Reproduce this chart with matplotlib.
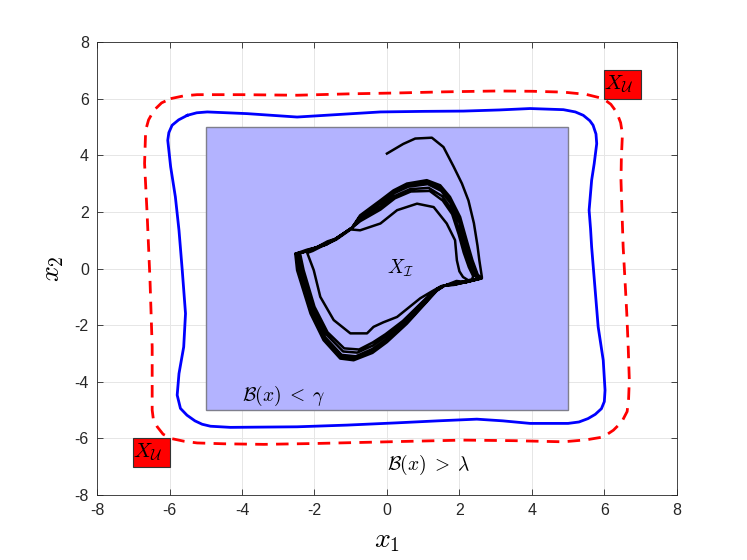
import numpy as np
import matplotlib.pyplot as plt
from matplotlib.patches import Rectangle

plt.rcParams['mathtext.fontset'] = 'cm'
plt.rcParams['font.family'] = ['Liberation Sans', 'DejaVu Sans']
plt.rcParams['axes.unicode_minus'] = False

# ---------------- data ----------------
init_box = [-5, 5, -5, 5]                       # x0, x1, y0, y1
unsafe_boxes = [[6, 7, 6, 7], [-7, -6, -7, -6]]

# level set B(x) = gamma (blue, solid)
inner_x = [-5.51, -5.25, -4.96, -3.86, -2.48, -1.20, -0.18, 1.00, 2.11, 3.10, 3.95, 4.87, 5.20,
           5.42, 5.60, 5.69, 5.77, 5.79, 5.72, 5.65, 5.58, 5.62, 5.65, 5.74, 5.83, 5.97, 6.02,
           6.00, 5.92, 5.75, 5.55, 5.30, 5.00, 3.95, 3.20, 2.48, 1.40, 0.28, -1.10, -2.48, -4.32,
           -4.87, -5.10, -5.30, -5.52, -5.70, -5.79, -5.74, -5.61, -5.56, -5.65, -5.74, -5.84,
           -5.97, -6.05, -6.02, -5.93, -5.75, -5.51]
inner_y = [5.41, 5.50, 5.53, 5.47, 5.35, 5.45, 5.53, 5.55, 5.56, 5.60, 5.65, 5.61, 5.53,
           5.41, 5.22, 5.06, 4.75, 4.41, 3.70, 3.12, 2.06, 1.40, 0.76, -0.65, -2.06, -3.24, -4.30,
           -4.70, -4.95, -5.15, -5.30, -5.42, -5.47, -5.47, -5.38, -5.32, -5.38, -5.45, -5.53, -5.59, -5.61,
           -5.57, -5.50, -5.38, -5.18, -4.94, -4.47, -3.71, -2.77, -1.59, -0.06, 1.35, 2.53,
           3.59, 4.53, 4.80, 5.06, 5.25, 5.41]

# level set B(x) = lambda (red, dashed)
outer_x = [-5.97, -5.60, -5.24, -4.00, -2.48, -1.00, 0.28, 1.60, 3.03, 4.00, 4.87, 5.50, 5.97,
           6.18, 6.34, 6.45, 6.50, 6.47, 6.46, 6.49, 6.52, 6.57, 6.62, 6.66, 6.69, 6.67, 6.63,
           6.48, 6.25, 5.97, 5.50, 4.87, 3.50, 2.11, 0.70, -0.64, -2.00, -3.40, -4.50, -5.24,
           -5.60, -5.97, -6.18, -6.34, -6.45, -6.48, -6.48, -6.48, -6.54, -6.62, -6.69, -6.66,
           -6.58, -6.43, -6.22, -5.97]
outer_y = [6.00, 6.10, 6.14, 6.14, 6.12, 6.17, 6.20, 6.24, 6.27, 6.26, 6.23, 6.15, 6.00,
           5.80, 5.52, 5.15, 4.75, 3.90, 3.12, 1.90, 0.76, -0.40, -1.59, -2.80, -3.94, -4.60, -5.05,
           -5.42, -5.71, -5.95, -6.05, -6.12, -6.08, -6.06, -6.10, -6.14, -6.18, -6.21, -6.19, -6.16,
           -6.10, -6.00, -5.85, -5.59, -5.30, -5.00, -4.65, -2.77, -0.41, 1.94, 3.71, 4.88,
           5.25, 5.59, 5.85, 6.00]

# sample trajectory: start segment, then orbits from outermost to innermost
traj_x = [0.00, 0.45, 0.78, 1.24, 1.56, 1.84, 2.07, 2.25, 2.40, 2.50, 2.55, 2.62,
          # orbit 1
          2.62, 2.20, 1.92, 1.60, 1.38, 1.19, 0.55, 0.00, -0.40, -0.92, -1.29, -1.75, -2.11, -2.48,
          -2.53, -2.20, -1.95, -1.68, -1.42, -0.96, -0.74, -0.18, 0.18, 0.55, 1.10, 1.47, 1.74,
          2.02, 2.20, 2.36, 2.50,
          # orbit 2
          2.60, 2.19, 1.88, 1.59, 1.40, 1.17, 0.53, -0.01, -0.40, -0.89, -1.27, -1.73, -2.09, -2.45,
          -2.51, -2.22, -1.94, -1.64, -1.42, -0.96, -0.74, -0.18, 0.19, 0.57, 1.11, 1.48, 1.75,
          2.01, 2.19, 2.34, 2.48,
          # orbit 3
          2.58, 2.17, 1.90, 1.59, 1.33, 1.15, 0.51, -0.02, -0.40, -0.86, -1.25, -1.71, -2.07, -2.41,
          -2.48, -2.18, -1.94, -1.70, -1.42, -0.97, -0.74, -0.18, 0.20, 0.59, 1.13, 1.50, 1.76,
          2.01, 2.17, 2.32, 2.46,
          # orbit 4
          2.54, 2.14, 1.85, 1.57, 1.36, 1.11, 0.47, -0.03, -0.39, -0.82, -1.21, -1.67, -2.03, -2.35,
          -2.44, -2.15, -1.92, -1.62, -1.41, -0.97, -0.74, -0.18, 0.21, 0.63, 1.15, 1.52, 1.78,
          1.99, 2.14, 2.29, 2.42,
          # orbit 5
          2.51, 2.12, 1.86, 1.56, 1.31, 1.08, 0.44, -0.04, -0.39, -0.77, -1.18, -1.64, -2.00, -2.30,
          -2.40, -2.12, -1.91, -1.66, -1.41, -0.98, -0.74, -0.18, 0.22, 0.66, 1.18, 1.54, 1.80,
          1.98, 2.12, 2.26, 2.38,
          # orbit 6 (innermost)
          2.35, 2.00, 1.78, 1.50, 1.25, 0.92, 0.28, -0.10, -0.37, -0.55, -1.01, -1.47, -1.84, -2.02,
          -2.20, -2.05, -1.85, -1.60, -1.40, -1.00, -0.74, -0.18, 0.28, 0.83, 1.29, 1.65, 1.88,
          1.93, 2.00, 2.10, 2.20]
traj_y = [4.06, 4.40, 4.59, 4.62, 4.29, 3.60, 3.00, 2.40, 1.60, 0.80, 0.29, -0.30,
          # orbit 1
          -0.35, -0.48, -0.44, -0.60, -0.78, -1.05, -1.95, -2.60, -2.98, -3.24, -3.18, -2.53, -1.59, -0.06,
          0.53, 0.60, 0.75, 0.84, 1.05, 1.45, 1.88, 2.41, 2.76, 3.00, 3.12, 2.94, 2.53,
          1.82, 1.00, 0.29, -0.20,
          # orbit 2
          -0.35, -0.48, -0.56, -0.60, -0.70, -1.05, -1.93, -2.55, -2.92, -3.17, -3.12, -2.48, -1.55, -0.06,
          0.53, 0.66, 0.75, 0.96, 1.05, 1.44, 1.84, 2.35, 2.71, 2.95, 3.05, 2.85, 2.42,
          1.71, 0.92, 0.25, -0.21,
          # orbit 3
          -0.35, -0.48, -0.50, -0.60, -0.82, -1.05, -1.91, -2.50, -2.84, -3.10, -3.05, -2.42, -1.50, -0.06,
          0.53, 0.62, 0.75, 0.88, 1.05, 1.44, 1.80, 2.29, 2.66, 2.89, 2.98, 2.74, 2.30,
          1.59, 0.84, 0.20, -0.23,
          # orbit 4
          -0.36, -0.49, -0.58, -0.61, -0.74, -1.05, -1.88, -2.40, -2.72, -2.97, -2.93, -2.33, -1.42, -0.06,
          0.54, 0.64, 0.75, 0.92, 1.04, 1.43, 1.73, 2.18, 2.56, 2.80, 2.85, 2.56, 2.10,
          1.39, 0.69, 0.12, -0.25,
          # orbit 5
          -0.36, -0.49, -0.52, -0.61, -0.80, -1.05, -1.85, -2.32, -2.61, -2.86, -2.82, -2.25, -1.35, -0.06,
          0.54, 0.68, 0.75, 0.86, 1.04, 1.42, 1.67, 2.08, 2.48, 2.72, 2.74, 2.40, 1.92,
          1.21, 0.56, 0.05, -0.27,
          # orbit 6 (innermost)
          -0.38, -0.50, -0.56, -0.62, -0.80, -1.05, -1.71, -1.90, -2.06, -2.29, -2.29, -1.82, -1.00, -0.06,
          0.55, 0.62, 0.75, 0.90, 1.02, 1.38, 1.35, 1.59, 2.06, 2.29, 2.17, 1.59, 1.00,
          0.29, -0.10, -0.30, -0.38]

ticks = [-8, -6, -4, -2, 0, 2, 4, 6, 8]

# ---------------- plot ----------------
fig = plt.figure(figsize=(7.47, 5.6), dpi=100)
ax = fig.add_axes([0.13, 0.116, 0.776, 0.809])

ax.add_patch(Rectangle((init_box[0], init_box[2]), init_box[1] - init_box[0], init_box[3] - init_box[2],
                       facecolor='#b3b3ff', edgecolor='#7f7f8c', lw=1, zorder=1))
for b in unsafe_boxes:
    ax.add_patch(Rectangle((b[0], b[2]), b[1] - b[0], b[3] - b[2],
                           facecolor='#ff0000', edgecolor='#333333', lw=0.8, zorder=4))
    ax.text(b[0], (b[2] + b[3]) / 2, r'$X_{\mathcal{U}}$', fontsize=15, ha='left', va='center', zorder=5)

ax.plot(inner_x, inner_y, color='#0000ff', lw=2, zorder=2, solid_joinstyle='round')
ax.plot(outer_x, outer_y, color='#ff0000', lw=2, ls=(0, (4.5, 3)), zorder=2)
ax.plot(traj_x, traj_y, color='k', lw=1.8, zorder=3, solid_joinstyle='round')

ax.text(0.0, 0.0, r'$X_{\mathcal{I}}$', fontsize=14, ha='left', va='center', zorder=5)
ax.text(-4.0, -4.5, r'$\mathcal{B}(x)\;<\;\gamma$', fontsize=14, ha='left', va='center', zorder=5)
ax.text(0.0, -6.95, r'$\mathcal{B}(x)\;>\;\lambda$', fontsize=14, ha='left', va='center', zorder=5)

ax.set_xlim(-8, 8)
ax.set_ylim(-8, 8)
ax.set_xticks(ticks)
ax.set_yticks(ticks)
ax.grid(True, color='#e6e6e6', lw=0.7)
ax.set_axisbelow(True)
ax.tick_params(direction='in', top=True, right=True, length=4, width=0.6,
               colors='#262626', labelsize=11.5, pad=6)
for s in ax.spines.values():
    s.set_color('#262626')
    s.set_linewidth(0.6)

ax.set_xlabel(r'$x_1$', fontsize=20, labelpad=7)
ax.set_ylabel(r'$x_2$', fontsize=20, labelpad=6)

fig.savefig('out.png', dpi=100)
